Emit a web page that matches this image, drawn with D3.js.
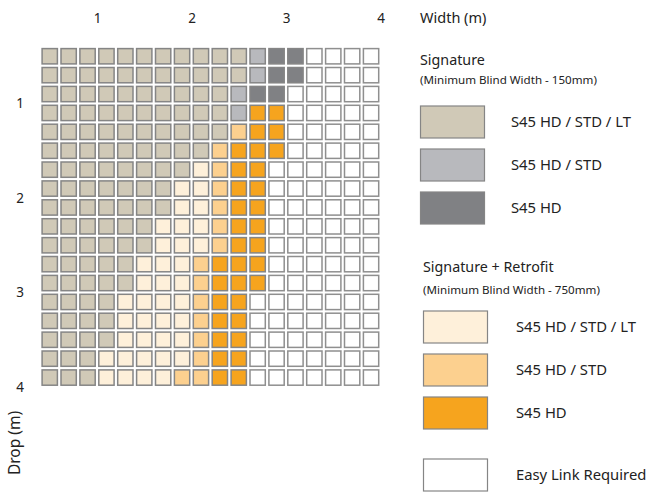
<!DOCTYPE html>
<html>
<head>
<meta charset="utf-8">
<script src="https://cdn.jsdelivr.net/npm/d3@7"></script>
<style>
  body { margin: 0; background: #fff; }
  text { font-family: "Noto Sans", Lato, sans-serif; fill: #222; }
</style>
</head>
<body>
<div id="chart"></div>
<script>
// widths / drops in metres (each cell is the upper limit of a 0.2m step)
const widths = d3.range(3, 21).map(i => +(i * 0.2).toFixed(1));
const drops = d3.range(3, 21).map(i => +(i * 0.2).toFixed(1));
const tickValues = [1, 2, 3, 4];

// category code per cell, one string per drop row (left to right = width)
// T sig HD/STD/LT, G sig HD/STD, D sig HD, C retro HD/STD/LT, L retro HD/STD, O retro HD, W easy link
const rowCodes = [
    "TTTTTTTTTTTGDDWWWW",
    "TTTTTTTTTTTGDDWWWW",
    "TTTTTTTTTTGDDWWWWW",
    "TTTTTTTTTTGOOWWWWW",
    "TTTTTTTTTTLOOWWWWW",
    "TTTTTTTTTLOOOWWWWW",
    "TTTTTTTTCLOOWWWWWW",
    "TTTTTTTCCLOOWWWWWW",
    "TTTTTTTCCLOOWWWWWW",
    "TTTTTTCCCLOOWWWWWW",
    "TTTTTTCCCLOOWWWWWW",
    "TTTTTCCCLOOOWWWWWW",
    "TTTTTCCCLOOOWWWWWW",
    "TTTTCCCCLOOWWWWWWW",
    "TTTTCCCCLOOWWWWWWW",
    "TTTTCCCCLOOWWWWWWW",
    "TTTCCCCCLOOWWWWWWW",
    "TTTCCCCLLOOWWWWWWW"
];

const categories = ["T", "G", "D", "C", "L", "O", "W"];
const categoryLabels = ["S45 HD / STD / LT", "S45 HD / STD", "S45 HD",
                        "S45 HD / STD / LT", "S45 HD / STD", "S45 HD", "Easy Link Required"];
const categoryColors = ["#d0c9b7", "#b8b9bd", "#808184", "#fef0da", "#fcd08f", "#f6a41e", "#ffffff"];

const W = 648, H = 493;
const svg = d3.select("#chart").append("svg")
    .attr("width", W)
    .attr("height", H);

const x = d3.scaleLinear().domain([0, 4]).range([2.5, 380.5]);
const y = d3.scaleLinear().domain([0, 4]).range([9, 387]);
const color = d3.scaleOrdinal().domain(categories).range(categoryColors);

const cells = [];
rowCodes.forEach((row, r) => {
    row.split("").forEach((code, c) => {
        cells.push({ width: widths[c], drop: drops[r], code });
    });
});

// grid cells
svg.append("g").selectAll("rect")
    .data(cells)
    .join("rect")
    .attr("x", d => x(d.width - 0.2) + 1.8)
    .attr("y", d => y(d.drop - 0.2) + 1.8)
    .attr("width", d => x(d.width) - x(d.width - 0.2) - 3.6)
    .attr("height", d => y(d.drop) - y(d.drop - 0.2) - 3.6)
    .attr("fill", d => color(d.code))
    .attr("stroke", d => d.code === "W" ? "#8f8f8f" : "#858585")
    .attr("stroke-width", 1.5);

// width axis (top)
const xAxis = svg.append("g")
    .attr("transform", "translate(0, 18)")
    .call(d3.axisTop(x).tickValues(tickValues).tickFormat(d3.format("d")).tickSize(0).tickPadding(0));
xAxis.select(".domain").remove();
xAxis.selectAll("text")
    .attr("dy", "0.35em")
    .style("font-size", "13.5px")
    .style("font-family", "'Noto Sans', Lato, sans-serif")
    .attr("fill", "#222");

// drop axis (left)
const yAxis = svg.append("g")
    .attr("transform", "translate(20, 0)")
    .call(d3.axisLeft(y).tickValues(tickValues).tickFormat(d3.format("d")).tickSize(0).tickPadding(0));
yAxis.select(".domain").remove();
yAxis.selectAll("text")
    .attr("text-anchor", "middle")
    .style("font-size", "13.5px")
    .style("font-family", "'Noto Sans', Lato, sans-serif")
    .attr("fill", "#222");

svg.append("text")
    .attr("transform", "translate(25, 443) rotate(-90)")
    .attr("text-anchor", "middle")
    .attr("dy", "-0.3em")
    .style("font-size", "15.5px")
    .text("Drop (m)");

svg.append("text")
    .attr("x", 420)
    .attr("y", 23)
    .style("font-size", "14.5px")
    .text("Width (m)");

// legend
const groups = [
    { title: "Signature", sub: "(Minimum Blind Width - 150mm)", x: 420, labelX: 511, titleY: 65, subY: 84, items: [0, 1, 2], top: 106 },
    { title: "Signature + Retrofit", sub: "(Minimum Blind Width - 750mm)", x: 423, labelX: 516, titleY: 272, subY: 294, items: [3, 4, 5], top: 311 }
];

groups.forEach(g => {
    svg.append("text")
        .attr("x", g.x)
        .attr("y", g.titleY)
        .style("font-size", "14.3px")
        .text(g.title);
    svg.append("text")
        .attr("x", g.x)
        .attr("y", g.subY)
        .style("font-size", "11.6px")
        .text(g.sub);
    g.items.forEach((k, i) => {
        const top = g.top + i * 43;
        svg.append("rect")
            .attr("x", g.x + 0.5)
            .attr("y", top)
            .attr("width", 64)
            .attr("height", 32)
            .attr("fill", categoryColors[k])
            .attr("stroke", "#858585")
            .attr("stroke-width", 1.2);
        svg.append("text")
            .attr("x", g.labelX)
            .attr("y", top + 16)
            .attr("dy", "0.35em")
            .style("font-size", "14.8px")
            .text(categoryLabels[k]);
    });
});

// easy link
svg.append("rect")
    .attr("x", 423.5)
    .attr("y", 459)
    .attr("width", 64)
    .attr("height", 32)
    .attr("fill", categoryColors[6])
    .attr("stroke", "#858585")
    .attr("stroke-width", 1.2);
svg.append("text")
    .attr("x", 516)
    .attr("y", 475)
    .attr("dy", "0.35em")
    .style("font-size", "14.8px")
    .text(categoryLabels[6]);
</script>
</body>
</html>
